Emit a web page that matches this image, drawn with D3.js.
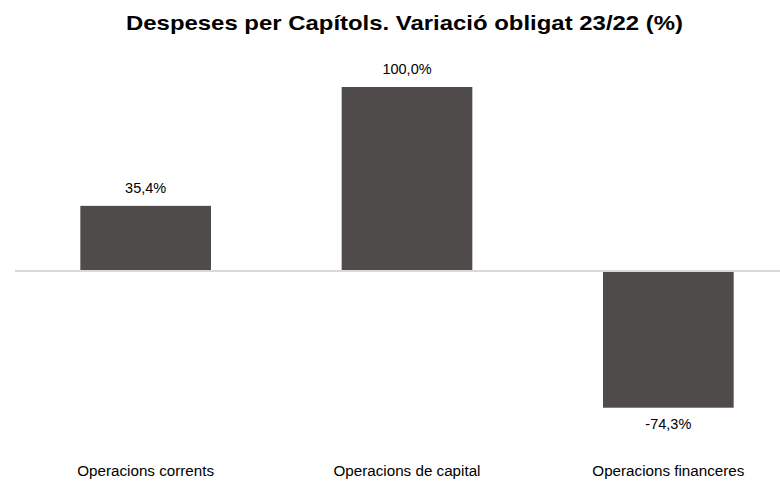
<!DOCTYPE html>
<html><head><meta charset="utf-8">
<script src="https://cdn.jsdelivr.net/npm/d3@7"></script>
<style>body{margin:0;background:#fff;}svg{display:block;font-family:"Liberation Sans",Arial,sans-serif;}</style>
</head><body>
<svg id="chart" width="780" height="484"></svg>
<script>
const title = "Despeses per Capítols. Variació obligat 23/22 (%)";
const categories = ["Operacions corrents", "Operacions de capital", "Operacions financeres"];
const values = [35.4, 100.0, -74.3];

const svg = d3.select("#chart");
const x = d3.scaleBand().domain(categories).range([15, 799]).paddingInner(0.5).paddingOuter(0.25);
const y = d3.scaleLinear().domain([-100, 100]).range([455, 87]);
const fmt = v => d3.format(".1f")(v).replace(".", ",").replace("\u2212", "-") + "%";

svg.append("text").attr("x", 404.5).attr("y", 30).attr("text-anchor", "middle")
  .attr("font-size", 21).attr("font-weight", "bold").attr("fill", "#000")
  .attr("textLength", 557).attr("lengthAdjust", "spacingAndGlyphs").text(title);

svg.selectAll("rect.bar").data(values).join("rect").attr("class", "bar")
  .attr("x", (d, i) => x(categories[i]))
  .attr("width", x.bandwidth())
  .attr("y", d => y(Math.max(0, d)))
  .attr("height", d => Math.abs(y(d) - y(0)))
  .attr("fill", "#4f4b4a");

svg.append("line").attr("x1", 15).attr("x2", 799).attr("y1", y(0)).attr("y2", y(0))
  .attr("stroke", "#d9d9d9").attr("stroke-width", 2);

svg.selectAll("text.val").data(values).join("text").attr("class", "val")
  .attr("x", (d, i) => x(categories[i]) + x.bandwidth() / 2)
  .attr("y", d => d >= 0 ? y(d) - 13 : y(d) + 21)
  .attr("text-anchor", "middle").attr("font-size", 14.5).attr("fill", "#000")
  .text(fmt);

svg.selectAll("text.cat").data(categories).join("text").attr("class", "cat")
  .attr("x", d => x(d) + x.bandwidth() / 2)
  .attr("y", 476)
  .attr("text-anchor", "middle").attr("font-size", 15.2).attr("fill", "#000")
  .text(d => d);
</script>
</body></html>
